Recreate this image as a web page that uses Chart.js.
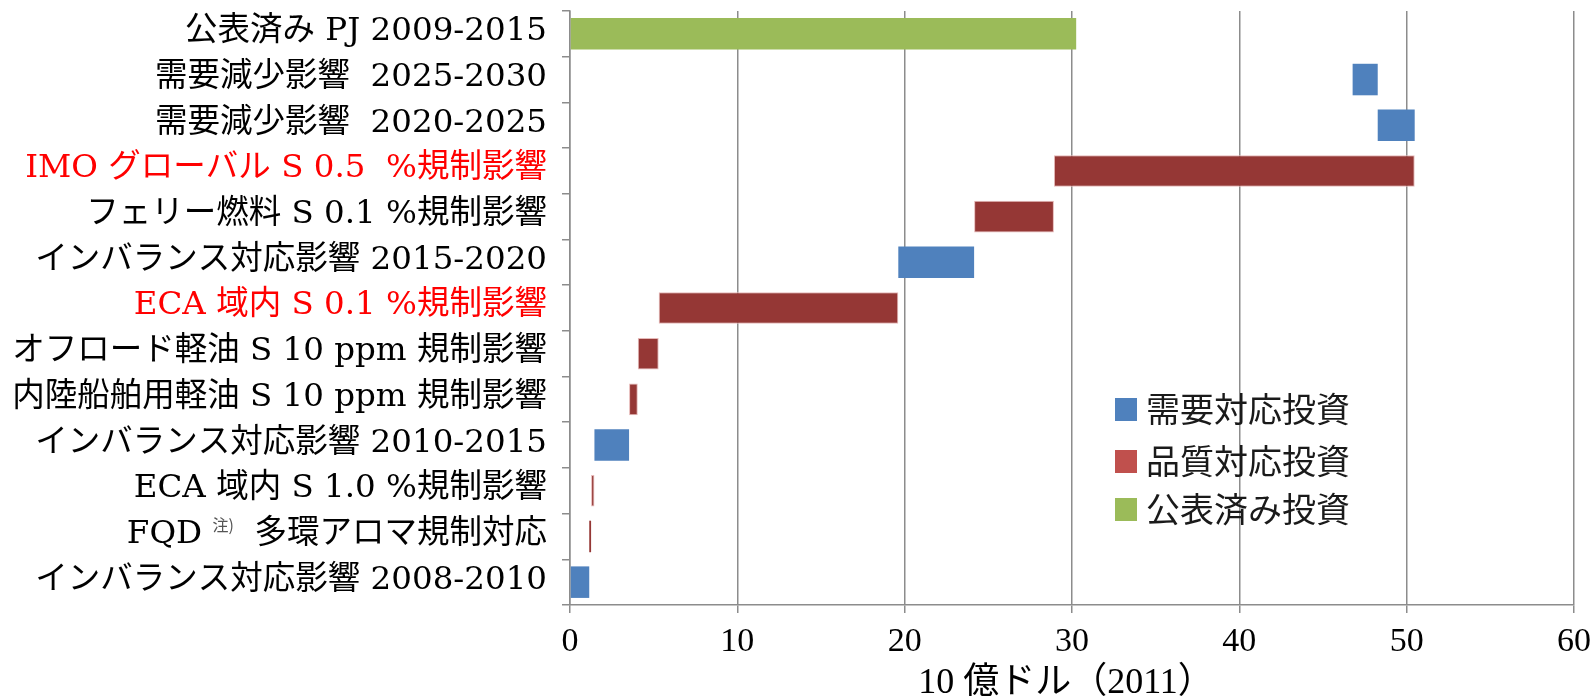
<!DOCTYPE html>
<html>
<head>
<meta charset="utf-8">
<script src="https://cdn.jsdelivr.net/npm/chart.js@4.4.1/dist/chart.umd.min.js"></script>
<style>
  html, body { margin: 0; padding: 0; background: #ffffff; }
  #wrap { width: 1594px; height: 697px; position: relative; }
</style>
</head>
<body>
<div id="wrap"><canvas id="c" width="1594" height="697"></canvas></div>
<script>
// Rows, top to bottom. Text between ^ marks is drawn as a superscript note.
const categories = [
  '公表済み PJ 2009-2015',
  '需要減少影響  2025-2030',
  '需要減少影響  2020-2025',
  'IMO グローバル S 0.5  %規制影響',
  'フェリー燃料 S 0.1 %規制影響',
  'インバランス対応影響 2015-2020',
  'ECA 域内 S 0.1 %規制影響',
  'オフロード軽油 S 10 ppm 規制影響',
  '内陸船舶用軽油 S 10 ppm 規制影響',
  'インバランス対応影響 2010-2015',
  'ECA 域内 S 1.0 %規制影響',
  'FQD ^注)^  多環アロマ規制対応',
  'インバランス対応影響 2008-2010'
];

// Floating bar extents, 10 億ドル (2011)
const barStart = [0,     46.77, 48.27, 28.92, 24.15, 19.62, 5.30,  4.05, 3.53, 1.46, 1.26, 1.15, 0];
const barEnd   = [30.25, 48.27, 50.48, 50.48, 28.92, 24.15, 19.62, 5.30, 4.05, 3.53, 1.46, 1.26, 1.15];

const seriesNames = ['需要対応投資', '品質対応投資', '公表済み投資'];
const barSeries = [
  '公表済み投資', '需要対応投資', '需要対応投資', '品質対応投資', '品質対応投資',
  '需要対応投資', '品質対応投資', '品質対応投資', '品質対応投資', '需要対応投資',
  '品質対応投資', '品質対応投資', '需要対応投資'
];

// Rows whose labels are printed in red
const highlightRows = [3, 6];

const xTicks = [0, 10, 20, 30, 40, 50, 60];
const xTitle = '10 億ドル（2011）';

// Styling
const barFill   = { '需要対応投資': '#4F81BD', '品質対応投資': '#953735', '公表済み投資': '#9BBB59' };
const barEdge   = { '需要対応投資': '#4F81BD', '品質対応投資': '#E6B9B8', '公表済み投資': '#9BBB59' };
const barEdgeW  = { '需要対応投資': 0, '品質対応投資': 1, '公表済み投資': 0 };
const keyColors = { '需要対応投資': '#4F81BD', '品質対応投資': '#C0504D', '公表済み投資': '#9BBB59' };

const axisGrey = '#8c8c8c';
const labelFont = "32.5px 'DejaVu Serif', 'Noto Sans CJK JP'";
const noteFont  = "16px 'Noto Sans CJK JP'";
const titleFont = "36px 'Liberation Serif', 'Noto Sans CJK JP'";

// Row labels drawn right-aligned against the value axis
const rowLabels = {
  id: 'rowLabels',
  afterDraw(chart) {
    const ctx = chart.ctx;
    const yScale = chart.scales.y;
    const right = chart.chartArea.left - 23;
    ctx.save();
    ctx.textAlign = 'left';
    ctx.textBaseline = 'middle';
    categories.forEach((label, i) => {
      const py = yScale.getPixelForValue(i) - 2;
      const parts = label.split('^');
      const widths = parts.map((p, k) => {
        ctx.font = k % 2 ? noteFont : labelFont;
        return ctx.measureText(p).width;
      });
      let x = right - widths.reduce((a, b) => a + b, 0);
      parts.forEach((p, k) => {
        ctx.font = k % 2 ? noteFont : labelFont;
        ctx.fillStyle = k % 2 ? '#555555' : (highlightRows.includes(i) ? '#FF0000' : '#000000');
        ctx.fillText(p, x, k % 2 ? py - 10 : py);
        x += widths[k];
      });
    });
    ctx.restore();
  }
};

// Value-axis title, set a little right of the plot centre
const axisTitle = {
  id: 'axisTitle',
  afterDraw(chart) {
    const ctx = chart.ctx;
    const area = chart.chartArea;
    ctx.save();
    ctx.font = titleFont;
    ctx.fillStyle = '#000000';
    ctx.textAlign = 'center';
    ctx.textBaseline = 'alphabetic';
    ctx.fillText(xTitle, (area.left + area.right) / 2 - 6, 693);
    ctx.restore();
  }
};

// Key placed inside the plot area, lower right
const seriesKey = {
  id: 'seriesKey',
  afterDraw(chart) {
    const ctx = chart.ctx;
    const rowsY = [409, 461, 509];
    ctx.save();
    ctx.font = "34px 'Noto Sans CJK JP'";
    ctx.textBaseline = 'middle';
    ctx.textAlign = 'left';
    chart.data.datasets.forEach((ds, k) => {
      const cy = rowsY[k];
      ctx.fillStyle = keyColors[ds.label];
      ctx.fillRect(1115, cy - 11, 22, 23);
      ctx.fillStyle = '#1a1a1a';
      ctx.fillText(ds.label, 1146, cy);
    });
    ctx.restore();
  }
};

const datasets = seriesNames.map(name => ({
  label: name,
  data: categories.map((_, i) => barSeries[i] === name ? [barStart[i], barEnd[i]] : null),
  backgroundColor: barFill[name],
  borderColor: barEdge[name],
  // very narrow bars keep their fill visible instead of the light edge
  borderWidth: ctx => {
    const v = ctx.raw;
    return v && Math.abs(v[1] - v[0]) < 0.15 ? 0 : barEdgeW[name];
  },
  borderSkipped: false,
  grouped: false,
  barPercentage: 0.69,
  categoryPercentage: 1
}));

new Chart(document.getElementById('c'), {
  type: 'bar',
  data: { labels: categories, datasets },
  options: {
    indexAxis: 'y',
    responsive: false,
    devicePixelRatio: 1,
    animation: false,
    layout: { autoPadding: false, padding: { top: 11, right: 20, left: 0, bottom: 0 } },
    plugins: {
      legend: { display: false },
      tooltip: { enabled: false }
    },
    scales: {
      x: {
        type: 'linear',
        position: 'bottom',
        min: xTicks[0],
        max: xTicks[xTicks.length - 1],
        ticks: {
          stepSize: xTicks[1] - xTicks[0],
          color: '#000000',
          font: { family: "'Liberation Serif'", size: 34 },
          padding: 9,
          maxRotation: 0
        },
        grid: { color: axisGrey, lineWidth: 1.5, tickLength: 8, drawTicks: true },
        border: { color: axisGrey, width: 1.5 },
        title: { display: false },
        afterFit(s) {
          s.height = 92;
          s.paddingLeft = 0;
          s.paddingRight = 0;
        }
      },
      y: {
        type: 'category',
        grid: { drawOnChartArea: false, offset: true, tickLength: 8, color: axisGrey, lineWidth: 1.5 },
        border: { color: axisGrey, width: 1.5 },
        ticks: { display: false },
        afterFit(s) {
          s.width = 570;
          s.paddingTop = 0;
          s.paddingBottom = 0;
        }
      }
    }
  },
  plugins: [rowLabels, axisTitle, seriesKey]
});
</script>
</body>
</html>
